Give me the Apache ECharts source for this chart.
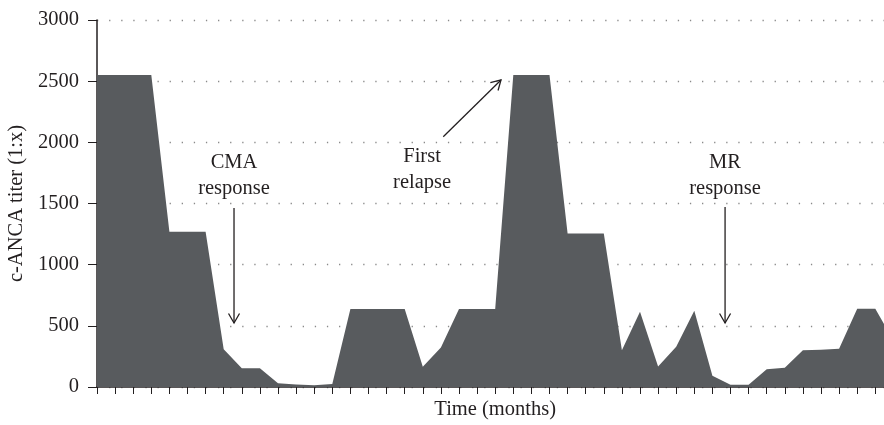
<!DOCTYPE html>
<html>
<head>
<meta charset="utf-8">
<script src="https://cdn.jsdelivr.net/npm/echarts@6/dist/echarts.min.js"></script>
<style>
  html, body { margin: 0; padding: 0; background: #fff; }
  #chart { width: 884px; height: 425px; }
</style>
</head>
<body>
<div id="chart"></div>
<script>
// time axis (months) and titer values
var months = [0, 1, 2, 3, 4, 5, 6, 7, 8, 9, 10, 11, 12, 13, 14, 15, 16, 17, 18, 19, 20, 21,
  22, 23, 24, 25, 26, 27, 28, 29, 30, 31, 32, 33, 34, 35, 36, 37, 38, 39, 40, 41, 42, 43, 44];
var titer = [2550, 2550, 2550, 2550, 1270, 1270, 1270, 308, 153, 153, 30, 20, 15, 25,
  637, 637, 637, 637, 166, 322, 637, 637, 637, 2550, 2550, 2550, 1255, 1255, 1255,
  300, 615, 168, 329, 623, 92, 18, 18, 146, 158, 300, 305, 313, 640, 640, 380];
var yTicks = [0, 500, 1000, 1500, 2000, 2500, 3000];

// annotations, in data units: text position and arrow [from, to]
var noteText = ['CMA\nresponse', 'First\nrelapse', 'MR\nresponse'];
var notePos = [[7.57, 1730], [17.96, 1780], [34.7, 1730]];
var noteArrow = [
  [[7.57, 1463], [7.57, 523]],
  [[19.13, 2046], [22.32, 2510]],
  [[34.7, 1471], [34.7, 523]]
];

var ink = '#231f20';
var font = 'Liberation Serif';

var myChart = echarts.init(document.getElementById('chart'));

var option = {
  animation: false,
  grid: { left: 97, top: 20, right: -9.4, bottom: 38, outerBoundsMode: 'none', containLabel: false },
  xAxis: {
    type: 'value',
    min: 0,
    max: 44,
    interval: 1,
    name: 'Time (months)',
    nameLocation: 'middle',
    nameGap: 12,
    nameTextStyle: { fontFamily: font, fontSize: 20.5, color: ink },
    axisLine: { lineStyle: { color: ink, width: 1.5 } },
    axisTick: { length: 7, lineStyle: { color: ink, width: 1 } },
    axisLabel: { show: false },
    splitLine: { show: false }
  },
  yAxis: {
    type: 'value',
    min: yTicks[0],
    max: yTicks[yTicks.length - 1],
    interval: 500,
    name: 'c-ANCA titer (1:x)',
    nameLocation: 'middle',
    nameGap: 66,
    nameTextStyle: { fontFamily: font, fontSize: 20.5, color: ink },
    axisLine: { show: true, lineStyle: { color: ink, width: 1.5 } },
    axisTick: { show: true, length: 9, lineStyle: { color: ink, width: 1 } },
    axisLabel: {
      margin: 18, fontFamily: font, fontSize: 20.5, color: ink,
      formatter: function (v) { return String(v); }
    },
    splitLine: { lineStyle: { color: '#8a8a8a', width: 1.3, type: [1.3, 10.8] } }
  },
  series: [
    {
      type: 'line',
      data: months.map(function (m, i) { return [m, titer[i]]; }),
      symbol: 'none',
      lineStyle: { width: 0 },
      areaStyle: { color: '#585b5e', opacity: 1 }
    }
  ]
};

myChart.setOption(option);

// arrows and their labels, placed through the chart's own coordinate system
function px(p) { return myChart.convertToPixel({ gridIndex: 0 }, p); }

var graphics = [];
noteText.forEach(function (t, i) {
  var c = px(notePos[i]);
  graphics.push({
    type: 'text',
    x: c[0], y: c[1],
    style: {
      text: t, fontFamily: font, fontSize: 20.5, fill: ink,
      align: 'center', verticalAlign: 'middle', lineHeight: 26
    }
  });
  var a = px(noteArrow[i][0]);
  var b = px(noteArrow[i][1]);
  graphics.push({
    type: 'line',
    shape: { x1: a[0], y1: a[1], x2: b[0], y2: b[1] },
    style: { stroke: ink, lineWidth: 1.3 }
  });
  var ang = Math.atan2(b[1] - a[1], b[0] - a[0]);
  var len = 11, spread = Math.PI / 6;
  graphics.push({
    type: 'polyline',
    shape: {
      points: [
        [b[0] - len * Math.cos(ang - spread), b[1] - len * Math.sin(ang - spread)],
        [b[0], b[1]],
        [b[0] - len * Math.cos(ang + spread), b[1] - len * Math.sin(ang + spread)]
      ]
    },
    style: { stroke: ink, lineWidth: 1.3, fill: null }
  });
});

myChart.setOption({ graphic: graphics });
</script>
</body>
</html>
